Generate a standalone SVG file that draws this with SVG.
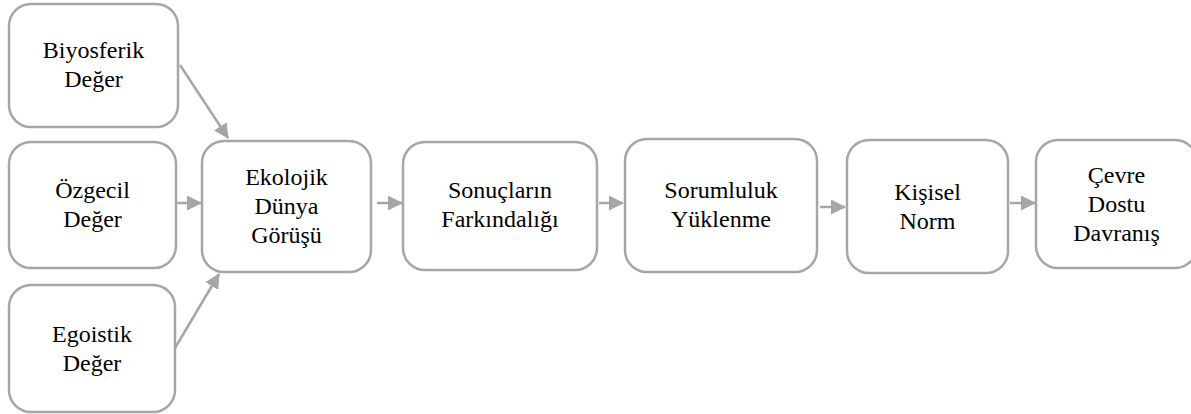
<svg xmlns="http://www.w3.org/2000/svg" width="1191" height="414" viewBox="0 0 1191 414">
<style>
.box{fill:#ffffff;stroke:#a6a6a6;stroke-width:2.5}
.lbl{font-family:'Liberation Serif','Times New Roman',serif;font-size:24px;fill:#000;text-anchor:middle}
.conn{stroke:#a6a6a6;stroke-width:2.5;fill:none}
</style>
<defs>
<marker id="ah" markerUnits="userSpaceOnUse" markerWidth="15" markerHeight="15" refX="14" refY="7.5" orient="auto" viewBox="0 0 15 15">
<path d="M0,0 L15,7.5 L0,15 z" fill="#a6a6a6"/>
</marker>
</defs>
<rect width="1191" height="414" fill="#ffffff"/>
<g id="connectors">
<line class="conn" x1="180" y1="65" x2="228" y2="138" marker-end="url(#ah)"/>
<line class="conn" x1="177" y1="203" x2="201" y2="203" marker-end="url(#ah)"/>
<line class="conn" x1="175" y1="348" x2="219" y2="274" marker-end="url(#ah)"/>
<line class="conn" x1="377" y1="203" x2="402" y2="203" marker-end="url(#ah)"/>
<line class="conn" x1="599" y1="203" x2="623" y2="203" marker-end="url(#ah)"/>
<line class="conn" x1="820" y1="207" x2="845" y2="207" marker-end="url(#ah)"/>
<line class="conn" x1="1010" y1="203" x2="1035" y2="203" marker-end="url(#ah)"/>
</g>
<g id="biyosferik">
<rect class="box" x="9" y="4" width="169" height="123" rx="22"/>
<text class="lbl" x="93.5" y="58">Biyosferik</text>
<text class="lbl" x="93.5" y="87">Değer</text>
</g>
<g id="ozgecil">
<rect class="box" x="9" y="142" width="167" height="126" rx="22"/>
<text class="lbl" x="92.5" y="198">Özgecil</text>
<text class="lbl" x="92.5" y="227">Değer</text>
</g>
<g id="egoistik">
<rect class="box" x="9" y="285" width="166" height="127" rx="22"/>
<text class="lbl" x="92" y="342">Egoistik</text>
<text class="lbl" x="92" y="371">Değer</text>
</g>
<g id="ekolojik">
<rect class="box" x="202" y="141" width="169" height="131" rx="22"/>
<text class="lbl" x="286.5" y="185">Ekolojik</text>
<text class="lbl" x="286.5" y="214">Dünya</text>
<text class="lbl" x="286.5" y="243">Görüşü</text>
</g>
<g id="sonuclarin">
<rect class="box" x="403" y="142" width="194" height="128" rx="22"/>
<text class="lbl" x="500" y="198">Sonuçların</text>
<text class="lbl" x="500" y="227">Farkındalığı</text>
</g>
<g id="sorumluluk">
<rect class="box" x="625" y="139" width="192" height="133" rx="22"/>
<text class="lbl" x="721" y="198">Sorumluluk</text>
<text class="lbl" x="721" y="227">Yüklenme</text>
</g>
<g id="kisisel">
<rect class="box" x="847" y="140" width="161" height="133" rx="22"/>
<text class="lbl" x="927.5" y="200">Kişisel</text>
<text class="lbl" x="927.5" y="229">Norm</text>
</g>
<g id="cevre">
<rect class="box" x="1036" y="140" width="161" height="128" rx="22"/>
<text class="lbl" x="1116.5" y="183">Çevre</text>
<text class="lbl" x="1116.5" y="212">Dostu</text>
<text class="lbl" x="1116.5" y="241">Davranış</text>
</g>
</svg>
